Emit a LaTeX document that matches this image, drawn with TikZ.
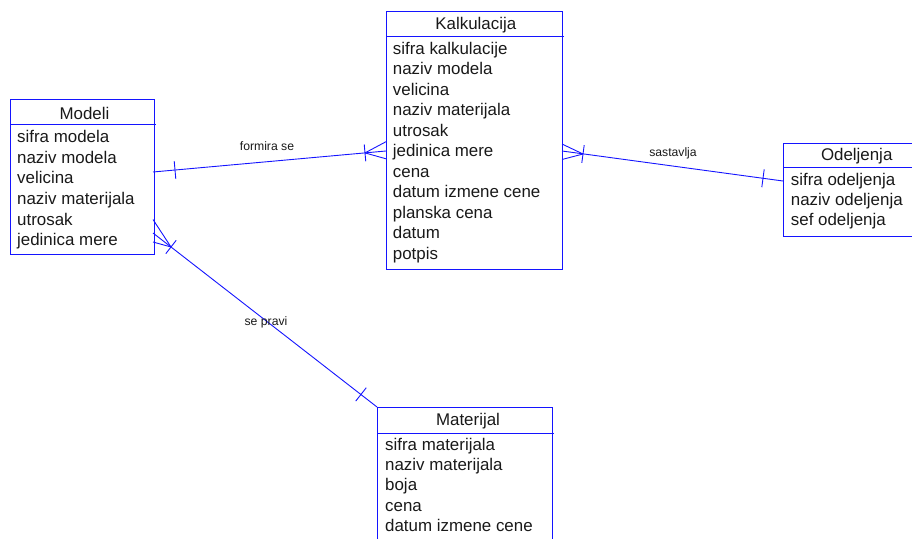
\documentclass[tikz,border=0pt]{standalone}
\usepackage{fontspec}
\setmainfont{Liberation Sans}
\usetikzlibrary{calc}
\definecolor{erblue}{RGB}{20,20,255}
\definecolor{txt}{RGB}{25,25,25}
\begin{document}
\begin{tikzpicture}[x=1pt,y=-1pt,
  ent/.style={draw=erblue,line width=1pt,inner sep=0pt,outer sep=0pt,anchor=north west},
  sep/.style={draw=erblue,line width=1pt},
  attr/.style={anchor=base west,inner sep=0pt,font=\fontsize{16.9}{19}\selectfont,text=txt},
  ttl/.style={anchor=base,inner sep=0pt,font=\fontsize{16.9}{19}\selectfont,text=txt},
  rel/.style={draw=erblue,line width=0.9pt},
  lbl/.style={inner sep=0pt,font=\fontsize{12.2}{14}\selectfont,text=txt}]
\useasboundingbox (0,0) rectangle (912,538);
\clip (0,0) rectangle (912,538);

% ---------- Modeli ----------
\node[ent,minimum width=144pt,minimum height=155pt] (modeli) at (10,99) {};
\draw[sep] (10,124) -- (156,124);
\node[ttl] (modeliT) at (84.5,119.3) {Modeli};
\node[attr] (m1) at (17,142.3) {sifra modela};
\node[attr] (m2) at (17,163.0) {naziv modela};
\node[attr] (m3) at (17,183.7) {velicina};
\node[attr] (m4) at (17,204.4) {naziv materijala};
\node[attr] (m5) at (17,225.1) {utrosak};
\node[attr] (m6) at (17,245.8) {jedinica mere};

% ---------- Kalkulacija ----------
\node[ent,minimum width=176pt,minimum height=258pt] (kalk) at (386,11) {};
\draw[sep] (386,36) -- (564,36);
\node[ttl] (kalkT) at (475.8,29.3) {Kalkulacija};
\node[attr] (k1) at (392.7,54.0) {sifra kalkulacije};
\node[attr] (k2) at (392.7,74.5) {naziv modela};
\node[attr] (k3) at (392.7,95.0) {velicina};
\node[attr] (k4) at (392.7,115.5) {naziv materijala};
\node[attr] (k5) at (392.7,136.0) {utrosak};
\node[attr] (k6) at (392.7,156.5) {jedinica mere};
\node[attr] (k7) at (392.7,177.0) {cena};
\node[attr] (k8) at (392.7,197.5) {datum izmene cene};
\node[attr] (k9) at (392.7,218.0) {planska cena};
\node[attr] (k10) at (392.7,238.5) {datum};
\node[attr] (k11) at (392.7,259.0) {potpis};

% ---------- Odeljenja ----------
\node[ent,minimum width=147pt,minimum height=93pt] (odel) at (783,143) {};
\draw[sep] (783,167) -- (930,167);
\node[ttl] (odelT) at (856.7,160.7) {Odeljenja};
\node[attr] (o1) at (790.7,185.0) {sifra odeljenja};
\node[attr] (o2) at (790.7,205.0) {naziv odeljenja};
\node[attr] (o3) at (790.7,225.0) {sef odeljenja};

% ---------- Materijal ----------
\node[ent,minimum width=175pt,minimum height=160pt] (mat) at (377,407) {};
\draw[sep] (377,433) -- (554,433);
\node[ttl] (matT) at (468,425) {Materijal};
\node[attr] (t1) at (385,450.0) {sifra materijala};
\node[attr] (t2) at (385,470.4) {naziv materijala};
\node[attr] (t3) at (385,490.8) {boja};
\node[attr] (t4) at (385,511.2) {cena};
\node[attr] (t5) at (385,531.6) {datum izmene cene};

% ---------- formira se (Modeli 1 -- N Kalkulacija) ----------
\coordinate (fA) at (153,172);
\coordinate (fB) at (386,151);
\coordinate (fBar1) at (175,170);
\coordinate (fCrow) at (365,152.9);
\coordinate (fP1) at (386,141.7);
\coordinate (fP2) at (386,158.8);
\draw[rel] (fA) -- (fB);
\draw[rel] (fCrow) -- (fP1);
\draw[rel] (fCrow) -- (fP2);
\draw[rel] ($(fBar1)!9pt!90:(fB)$) -- ($(fBar1)!9pt!-90:(fB)$);
\draw[rel] ($(fCrow)!8.5pt!90:(fB)$) -- ($(fCrow)!8.5pt!-90:(fB)$);
\node[lbl] (fL) at (267,146) {formira se};

% ---------- sastavlja (Kalkulacija N -- 1 Odeljenja) ----------
\coordinate (sA) at (562,151);
\coordinate (sB) at (783,181);
\coordinate (sCrow) at (583,154);
\coordinate (sBar2) at (763,178.3);
\coordinate (sP1) at (562,144);
\coordinate (sP2) at (562,159.5);
\draw[rel] (sA) -- (sB);
\draw[rel] (sCrow) -- (sP1);
\draw[rel] (sCrow) -- (sP2);
\draw[rel] ($(sCrow)!9pt!90:(sB)$) -- ($(sCrow)!9pt!-90:(sB)$);
\draw[rel] ($(sBar2)!9pt!90:(sB)$) -- ($(sBar2)!9pt!-90:(sB)$);
\node[lbl] (sL) at (673,153) {sastavlja};

% ---------- se pravi (Modeli N -- 1 Materijal) ----------
\coordinate (pA) at (153,233);
\coordinate (pB) at (377,407);
\coordinate (pCrow) at (171,247);
\coordinate (pBar2) at (361,394.4);
\coordinate (pP1) at (153,219.5);
\coordinate (pP2) at (153,242);
\draw[rel] (pA) -- (pB);
\draw[rel] (pCrow) -- (pP1);
\draw[rel] (pCrow) -- (pP2);
\draw[rel] ($(pCrow)!8.5pt!90:(pB)$) -- ($(pCrow)!8.5pt!-90:(pB)$);
\draw[rel] ($(pBar2)!8.5pt!90:(pB)$) -- ($(pBar2)!8.5pt!-90:(pB)$);
\node[lbl] (pL) at (266,322) {se pravi};
\end{tikzpicture}
\end{document}
